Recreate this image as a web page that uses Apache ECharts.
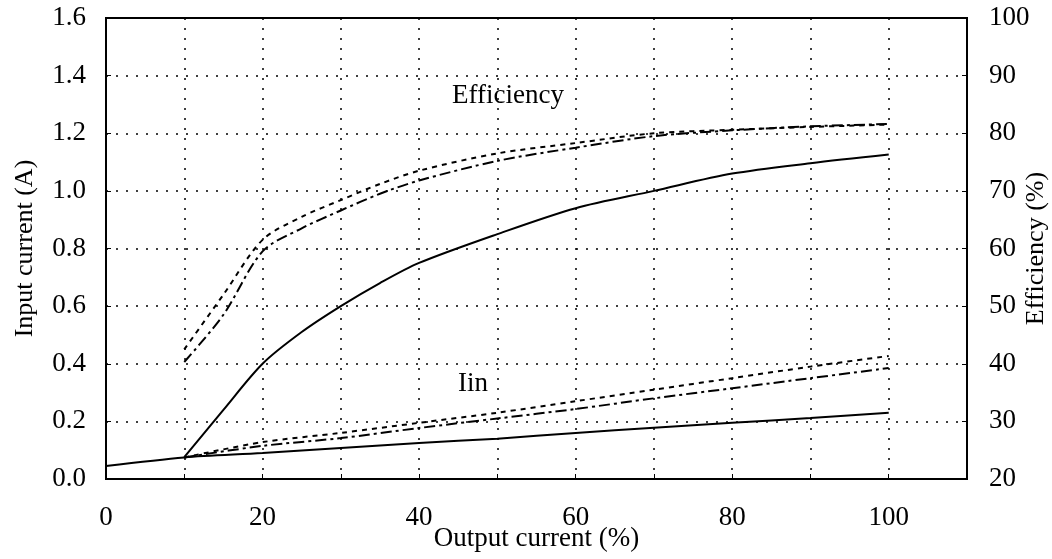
<!DOCTYPE html>
<html>
<head>
<meta charset="utf-8">
<script src="https://cdn.jsdelivr.net/npm/echarts@6/dist/echarts.min.js"></script>
<style>html,body{margin:0;padding:0;background:#fff}#c{width:1052px;height:559px}</style>
</head>
<body>
<div id="c"></div>
<script>
// ---- data ----
const xTickLabels = ['0','20','40','60','80','100'];
const effX = [10, 15, 20, 25, 30, 35, 40, 50, 60, 70, 80, 90, 100];
const effSolid = [23.8, 32, 40, 45.5, 50, 54, 57.5, 62.5, 67, 70, 73, 74.8, 76.3];
const effShortDash = [42.5, 52, 61.5, 65.5, 68.4, 71.2, 73.5, 76.5, 78.3, 80, 80.6, 81.1, 81.5];
const effDashDot = [40.3, 48.5, 59.5, 63.5, 66.6, 69.5, 71.8, 75.2, 77.5, 79.5, 80.5, 81.2, 81.6];
const iinSolidX = [0, 10, 20, 30, 40, 50, 60, 70, 80, 90, 100];
const iinSolid = [0.045, 0.075, 0.09, 0.108, 0.125, 0.14, 0.16, 0.178, 0.195, 0.212, 0.23];
const iinX = [10, 20, 30, 40, 50, 60, 70, 80, 90, 100];
const iinShortDash = [0.075, 0.128, 0.16, 0.195, 0.23, 0.27, 0.31, 0.35, 0.39, 0.427];
const iinDashDot = [0.075, 0.115, 0.142, 0.177, 0.21, 0.243, 0.28, 0.315, 0.35, 0.385];

const FONT = 'Liberation Serif';
const zip = (xs, ys) => xs.map((x, i) => [x, ys[i]]);
const lineSeries = (name, xs, ys, yIdx, type) => ({
  name, type: 'line', yAxisIndex: yIdx, data: zip(xs, ys), smooth: 0.3,
  symbol: 'none', lineStyle: { color: '#000', width: 2, type }, z: 5
});
const SHORT = [5, 5];
const DASHDOT = [11, 4, 3, 4];

const chart = echarts.init(document.getElementById('c'));
chart.setOption({
  animation: false,
  backgroundColor: '#fff',
  grid: { left: 106, right: 85, top: 18, bottom: 80, show: true, borderColor: '#000', borderWidth: 2,
          containLabel: false, outerBoundsMode: 'none' },
  xAxis: {
    type: 'value', min: 0, max: 110, interval: 10,
    name: 'Output current (%)', nameLocation: 'middle', nameGap: 46, nameMoveOverlap: false,
    nameTextStyle: { fontFamily: FONT, fontSize: 27, color: '#000' },
    axisLine: { show: true, lineStyle: { color: '#000', width: 2 } },
    axisTick: { show: true, inside: true, length: 5, lineStyle: { color: '#000' } },
    axisLabel: { fontFamily: FONT, fontSize: 27, color: '#000', margin: 25,
      formatter: v => (v % 20 === 0 && v <= 100) ? xTickLabels[v / 20] : '' },
    splitLine: { show: true, lineStyle: { color: '#000', width: 1.5, type: [2, 8] } }
  },
  yAxis: [{
    type: 'value', min: 0, max: 1.6, interval: 0.2, position: 'left',
    name: 'Input current (A)', nameLocation: 'middle', nameGap: 68, nameRotate: 90, nameMoveOverlap: false,
    nameTextStyle: { fontFamily: FONT, fontSize: 26, color: '#000' },
    axisLine: { show: true, lineStyle: { color: '#000', width: 2 } },
    axisTick: { show: true, inside: true, length: 5, lineStyle: { color: '#000' } },
    axisLabel: { fontFamily: FONT, fontSize: 27, color: '#000', margin: 20, formatter: v => v.toFixed(1) },
    splitLine: { show: true, lineStyle: { color: '#000', width: 1.5, type: [2, 8] } }
  }, {
    type: 'value', min: 20, max: 100, interval: 10, position: 'right',
    name: 'Efficiency (%)', nameLocation: 'middle', nameGap: 56, nameRotate: 90, nameMoveOverlap: false,
    nameTextStyle: { fontFamily: FONT, fontSize: 26, color: '#000' },
    axisLine: { show: true, lineStyle: { color: '#000', width: 2 } },
    axisTick: { show: true, inside: true, length: 5, lineStyle: { color: '#000' } },
    axisLabel: { fontFamily: FONT, fontSize: 27, color: '#000', margin: 22 },
    splitLine: { show: false }
  }],
  graphic: [
    { type: 'text', left: 452, top: 82, style: { text: 'Efficiency', font: '27px "Liberation Serif"', fill: '#000' }, z: 10 },
    { type: 'text', left: 458, top: 370, style: { text: 'Iin', font: '27px "Liberation Serif"', fill: '#000' }, z: 10 }
  ],
  series: [
    lineSeries('Eff solid', effX, effSolid, 1, 'solid'),
    lineSeries('Eff short dash', effX, effShortDash, 1, SHORT),
    lineSeries('Eff dash dot', effX, effDashDot, 1, DASHDOT),
    lineSeries('Iin solid', iinSolidX, iinSolid, 0, 'solid'),
    lineSeries('Iin short dash', iinX, iinShortDash, 0, SHORT),
    lineSeries('Iin dash dot', iinX, iinDashDot, 0, DASHDOT)
  ]
});
</script>
</body>
</html>
